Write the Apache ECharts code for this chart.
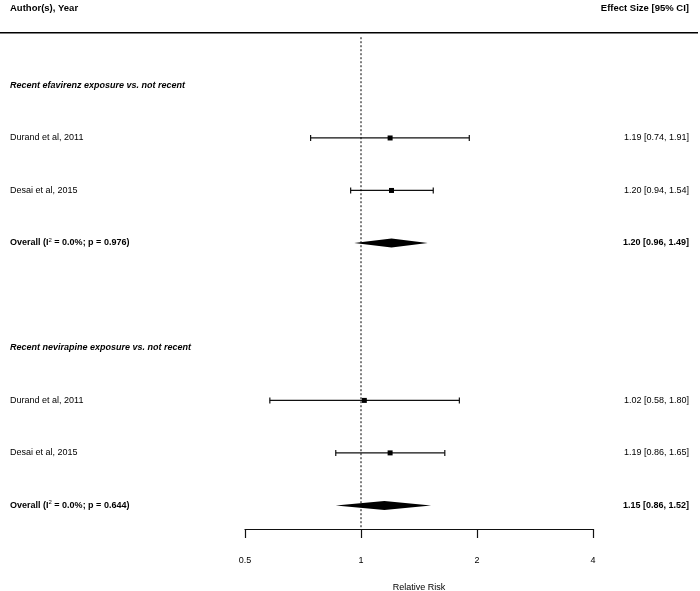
<!DOCTYPE html>
<html style="height: 100%">

<head>
  <meta charset="utf-8">
</head>

<body style="height: 100%; margin: 0; background: #fff">
  <div id="container" style="height: 100%"></div>
  <script type="text/javascript" src="https://cdn.jsdelivr.net/npm/echarts@6/dist/echarts.min.js"></script>
  <script type="text/javascript">
  var dom = document.getElementById("container");
  var myChart = echarts.init(dom);

  // rows count down from the header line (row 0)
  var groupTitles = ['Recent efavirenz exposure vs. not recent', 'Recent nevirapine exposure vs. not recent'];
  var groupRows = [1, 6];

  var studyNames = ['Durand et al, 2011', 'Desai et al, 2015', 'Durand et al, 2011', 'Desai et al, 2015'];
  var studyEst = [1.19, 1.20, 1.02, 1.19];
  var studyLo = [0.74, 0.94, 0.58, 0.86];
  var studyHi = [1.91, 1.54, 1.80, 1.65];
  var studyRows = [2, 3, 7, 8];

  var overallEst = [1.20, 1.15];
  var overallLo = [0.96, 0.86];
  var overallHi = [1.49, 1.52];
  var overallI2 = ['0.0%', '0.0%'];
  var overallP = ['0.976', '0.644'];
  var overallRows = [4, 9];

  var xTicks = [0.5, 1, 2, 4];

  var fontFamily = '"Liberation Sans", Arial, sans-serif';

  function fmt(v) { return v.toFixed(2); }

  var forestData = [];
  studyNames.forEach(function (n, i) {
    forestData.push([studyEst[i], studyRows[i], studyLo[i], studyHi[i], 0, i]);
  });
  overallEst.forEach(function (e, i) {
    forestData.push([e, overallRows[i], overallLo[i], overallHi[i], 1, i]);
  });

  function renderRow(params, api) {
    var est = api.value(0), row = api.value(1), lo = api.value(2), hi = api.value(3);
    var kind = api.value(4), idx = api.value(5);
    var c = api.coord([est, row]);
    var pl = api.coord([lo, row]);
    var ph = api.coord([hi, row]);
    var y = c[1];
    var W = api.getWidth();
    var kids = [];
    if (kind === 0) {
      var ln = { stroke: '#111', lineWidth: 1.2 };
      kids.push({ type: 'line', shape: { x1: pl[0], y1: y, x2: ph[0], y2: y }, style: ln });
      kids.push({ type: 'line', shape: { x1: pl[0], y1: y - 3, x2: pl[0], y2: y + 3 }, style: ln });
      kids.push({ type: 'line', shape: { x1: ph[0], y1: y - 3, x2: ph[0], y2: y + 3 }, style: ln });
      kids.push({ type: 'rect', shape: { x: c[0] - 2.5, y: y - 2.5, width: 5, height: 5 }, style: { fill: '#000' } });
      kids.push({ type: 'text', style: { text: studyNames[idx], x: 10, y: y, textAlign: 'left', textVerticalAlign: 'middle', font: '9px ' + fontFamily, fill: '#000' } });
      kids.push({ type: 'text', style: { text: fmt(est) + ' [' + fmt(lo) + ', ' + fmt(hi) + ']', x: W - 11, y: y, textAlign: 'right', textVerticalAlign: 'middle', font: '9px ' + fontFamily, fill: '#000' } });
    } else {
      kids.push({ type: 'polygon', shape: { points: [[pl[0], y], [c[0], y - 4.5], [ph[0], y], [c[0], y + 4.5]] }, style: { fill: '#000' } });
      kids.push({
        type: 'text',
        style: {
          text: '{b|Overall (I}{s|2}{b| = ' + overallI2[idx] + '; p = ' + overallP[idx] + ')}',
          x: 10, y: y, textAlign: 'left', textVerticalAlign: 'middle',
          rich: {
            b: { fontSize: 9, fontWeight: 'bold', fontFamily: fontFamily, fill: '#000', lineHeight: 12 },
            s: { fontSize: 6, fontFamily: fontFamily, fill: '#000', lineHeight: 12, verticalAlign: 'top' }
          }
        }
      });
      kids.push({ type: 'text', style: { text: fmt(est) + ' [' + fmt(lo) + ', ' + fmt(hi) + ']', x: W - 11, y: y, textAlign: 'right', textVerticalAlign: 'middle', font: 'bold 9px ' + fontFamily, fill: '#000' } });
    }
    return { type: 'group', children: kids };
  }

  function renderGroup(params, api) {
    var c = api.coord([1, api.value(1)]);
    return {
      type: 'text',
      style: { text: groupTitles[api.value(0)], x: 10, y: c[1], textAlign: 'left', textVerticalAlign: 'middle', font: 'italic bold 9px ' + fontFamily, fill: '#000' }
    };
  }

  var option = {
    animation: false,
    grid: { left: 245, right: 107, top: 33, bottom: 62, containLabel: false, outerBoundsMode: 'none' },
    xAxis: {
      type: 'log',
      logBase: 2,
      min: 0.5,
      max: 4,
      position: 'bottom',
      axisLine: { show: true, onZero: false, lineStyle: { color: '#111', width: 1.2 } },
      axisTick: { show: true, length: 9, lineStyle: { color: '#111', width: 1.2 } },
      minorTick: { show: false },
      splitLine: { show: false },
      axisLabel: {
        margin: 27, color: '#000', fontSize: 9, fontFamily: fontFamily,
        formatter: function (v) { return xTicks.indexOf(v) >= 0 ? String(v) : String(+v.toFixed(2)); }
      },
      name: 'Relative Risk',
      nameLocation: 'middle',
      nameGap: 54,
      nameTextStyle: { color: '#000', fontSize: 9, fontFamily: fontFamily }
    },
    yAxis: {
      type: 'value',
      inverse: true,
      min: 0,
      max: 9.45,
      show: false
    },
    graphic: [
      { type: 'text', left: 10, top: 3, style: { text: 'Author(s), Year', font: 'bold 9.5px ' + fontFamily, fill: '#000' } },
      { type: 'text', right: 11, top: 3, style: { text: 'Effect Size [95% CI]', font: 'bold 9.5px ' + fontFamily, fill: '#000' } },
      { type: 'rect', left: 0, top: 32, shape: { width: 698, height: 1.5 }, style: { fill: '#000' } }
    ],
    series: [
      {
        type: 'line',
        data: [[1, 0.08], [1, 9.45]],
        symbol: 'none',
        lineStyle: { color: '#000', width: 1, type: [2, 2] },
        silent: true
      },
      {
        type: 'custom',
        renderItem: renderRow,
        data: forestData,
        encode: { x: 0, y: 1 },
        silent: true
      },
      {
        type: 'custom',
        renderItem: renderGroup,
        data: groupRows.map(function (r, i) { return [i, r]; }),
        encode: { y: 1 },
        silent: true
      }
    ]
  };

  myChart.setOption(option);
  </script>
</body>

</html>
